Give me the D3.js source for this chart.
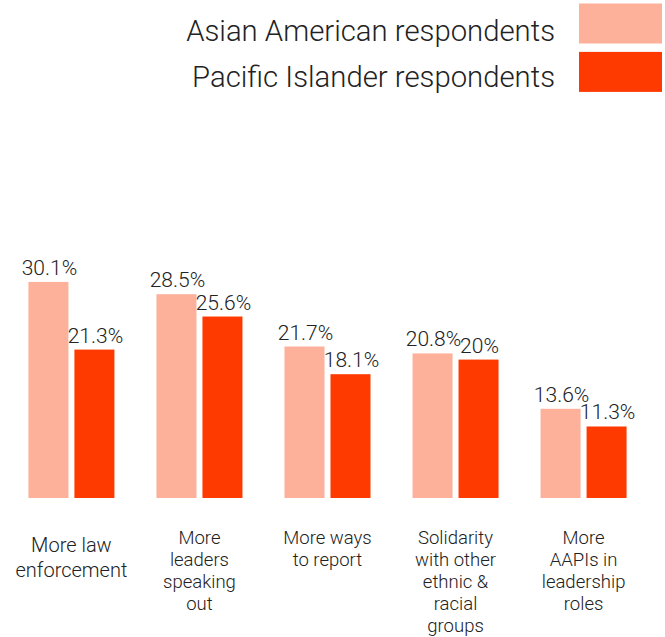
<!DOCTYPE html>
<html>
<head>
<meta charset="utf-8">
<script src="https://cdn.jsdelivr.net/npm/d3@7"></script>
<style>
  body { margin: 0; background: #fff; }
  svg text { font-family: "Roboto Light", Roboto, "Open Sans", sans-serif; font-weight: 300; fill: #222; }
</style>
</head>
<body>
<svg id="chart" width="665" height="637"></svg>
<script>
// data
var categories = ["More law enforcement", "More leaders speaking out", "More ways to report",
                  "Solidarity with other ethnic & racial groups", "More AAPIs in leadership roles"];
var categoryLines = [["More law", "enforcement"], ["More", "leaders", "speaking", "out"],
                     ["More ways", "to report"], ["Solidarity", "with other", "ethnic &", "racial", "groups"],
                     ["More", "AAPIs in", "leadership", "roles"]];
var seriesNames = ["Asian American respondents", "Pacific Islander respondents"];
var asianAmerican = [30.1, 28.5, 21.7, 20.8, 13.6];
var pacificIslander = [21.3, 25.6, 18.1, 20, 11.3];
var colors = ["#fdb09a", "#ff3a00"];

var svg = d3.select("#chart");
var baseline = 498;

var x = d3.scaleBand().domain(categories).range([7.4, 647.6]);
var xInner = d3.scaleBand().domain(seriesNames).range([0, 86]).paddingInner(0.13);
var y = d3.scaleLinear().domain([2, 31]).range([baseline, baseline - 223]);

var rows = [];
categories.forEach(function(c, i){
  rows.push({cat: c, series: seriesNames[0], value: asianAmerican[i], color: colors[0]});
  rows.push({cat: c, series: seriesNames[1], value: pacificIslander[i], color: colors[1]});
});

function barX(d){ return x(d.cat) + x.bandwidth() / 2 - 43 + xInner(d.series); }

svg.selectAll(".bar").data(rows).enter().append("rect")
  .attr("class", "bar")
  .attr("x", barX)
  .attr("y", function(d){ return y(d.value); })
  .attr("width", xInner.bandwidth())
  .attr("height", function(d){ return baseline - y(d.value); })
  .attr("fill", function(d){ return d.color; });

svg.selectAll(".val").data(rows).enter().append("text")
  .attr("class", "val")
  .attr("x", function(d){ return barX(d) + xInner.bandwidth() / 2 + 1; })
  .attr("y", function(d){ return y(d.value) - 7; })
  .attr("text-anchor", "middle")
  .attr("font-size", 21)
  .text(function(d){ return d.value + "%"; });

// category labels below the bars (the first one is set a bit larger)
categoryLines.forEach(function(lines, i){
  var cx = x(categories[i]) + x.bandwidth() / 2;
  var first = i == 0 ? 552 : 544.3;
  var lh = i == 0 ? 25 : 22;
  var t = svg.append("text")
    .attr("text-anchor", "middle")
    .attr("font-size", i == 0 ? 20 : 18.5);
  lines.forEach(function(l, j){
    t.append("tspan").attr("x", cx).attr("y", first + j * lh).text(l);
  });
});

// legend
var legend = svg.selectAll(".legend").data(seriesNames).enter().append("g")
  .attr("class", "legend");
legend.append("rect")
  .attr("x", 579).attr("y", function(d, i){ return 3.5 + i * 48.4; })
  .attr("width", 83).attr("height", 40)
  .attr("fill", function(d, i){ return colors[i]; });
legend.append("text")
  .attr("x", 555).attr("y", function(d, i){ return 41 + i * 45.5; })
  .attr("text-anchor", "end")
  .attr("font-size", 29.3)
  .text(function(d){ return d; });
</script>
</body>
</html>
